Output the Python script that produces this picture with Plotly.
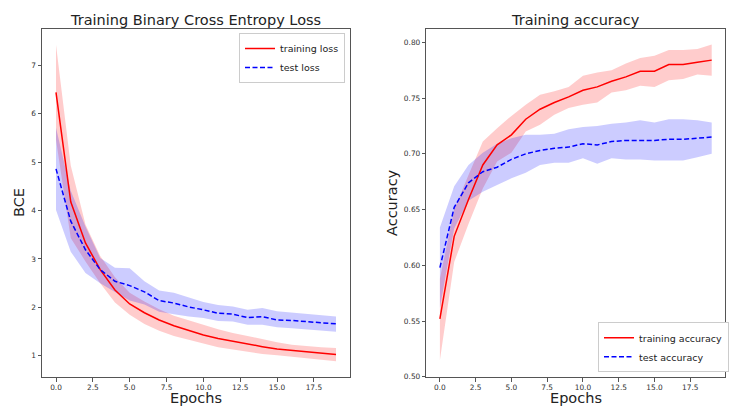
import plotly.graph_objects as go

epochs = list(range(20))

train_loss = [6.44, 4.18, 3.33, 2.78, 2.36, 2.07, 1.89, 1.74, 1.62, 1.52, 1.43, 1.36, 1.30, 1.24, 1.19, 1.14, 1.11, 1.08, 1.06, 1.03]
train_loss_upper = [7.42, 4.93, 3.71, 3.06, 2.62, 2.30, 2.12, 1.96, 1.83, 1.73, 1.64, 1.55, 1.47, 1.41, 1.34, 1.28, 1.23, 1.20, 1.18, 1.16]
train_loss_lower = [5.46, 3.43, 2.95, 2.50, 2.10, 1.85, 1.66, 1.52, 1.41, 1.33, 1.25, 1.18, 1.13, 1.08, 1.04, 1.01, 0.98, 0.95, 0.93, 0.89]

test_loss = [4.86, 3.78, 3.19, 2.78, 2.54, 2.45, 2.32, 2.14, 2.09, 2.01, 1.95, 1.88, 1.86, 1.79, 1.81, 1.74, 1.73, 1.71, 1.68, 1.66]
test_loss_upper = [5.71, 4.41, 3.67, 3.02, 2.82, 2.81, 2.54, 2.35, 2.30, 2.21, 2.11, 2.05, 2.02, 1.95, 1.99, 1.92, 1.89, 1.87, 1.84, 1.81]
test_loss_lower = [4.01, 3.15, 2.71, 2.50, 2.32, 2.14, 2.06, 1.91, 1.86, 1.81, 1.78, 1.72, 1.71, 1.64, 1.64, 1.59, 1.57, 1.55, 1.52, 1.50]

train_acc = [0.552, 0.626, 0.659, 0.690, 0.708, 0.717, 0.731, 0.740, 0.746, 0.751, 0.757, 0.760, 0.765, 0.769, 0.774, 0.774, 0.780, 0.780, 0.782, 0.784]
train_acc_upper = [0.588, 0.650, 0.681, 0.711, 0.723, 0.734, 0.744, 0.753, 0.756, 0.760, 0.770, 0.773, 0.775, 0.781, 0.786, 0.788, 0.793, 0.793, 0.794, 0.798]
train_acc_lower = [0.515, 0.603, 0.637, 0.669, 0.693, 0.701, 0.720, 0.726, 0.735, 0.741, 0.744, 0.746, 0.755, 0.757, 0.761, 0.760, 0.766, 0.767, 0.771, 0.770]

test_acc = [0.598, 0.652, 0.674, 0.684, 0.688, 0.695, 0.700, 0.703, 0.705, 0.706, 0.709, 0.708, 0.711, 0.712, 0.712, 0.712, 0.713, 0.713, 0.714, 0.715]
test_acc_upper = [0.634, 0.671, 0.690, 0.701, 0.709, 0.714, 0.717, 0.717, 0.718, 0.722, 0.724, 0.725, 0.727, 0.728, 0.730, 0.728, 0.731, 0.731, 0.730, 0.728]
test_acc_lower = [0.562, 0.633, 0.658, 0.666, 0.672, 0.678, 0.683, 0.690, 0.692, 0.692, 0.696, 0.691, 0.696, 0.695, 0.695, 0.694, 0.694, 0.694, 0.697, 0.700]

x_ticks = [0, 2.5, 5, 7.5, 10, 12.5, 15, 17.5]
x_tick_labels = ["0.0", "2.5", "5.0", "7.5", "10.0", "12.5", "15.0", "17.5"]
loss_ticks = [1, 2, 3, 4, 5, 6, 7]
acc_ticks = [0.50, 0.55, 0.60, 0.65, 0.70, 0.75, 0.80]
acc_tick_labels = ["0.50", "0.55", "0.60", "0.65", "0.70", "0.75", "0.80"]

# page has an 8px body margin; the figure fills the rest of the 737x406 window
OFF = 8
W, H = 737 - OFF, 406 - OFF
FONT = "DejaVu Sans"
RED = "#ff0000"
BLUE = "#0000ff"
RED_FILL = "rgba(255,0,0,0.2)"
BLUE_FILL = "rgba(0,0,255,0.2)"


def px_x(p):
    return (p - OFF) / W


def px_y(p):
    return 1 - (p - OFF) / H


fig = go.Figure()


def band(xa, ya, lower, upper, color):
    fig.add_trace(go.Scatter(x=epochs, y=lower, xaxis=xa, yaxis=ya, mode="lines",
                             line=dict(width=0, color=color), showlegend=False, hoverinfo="skip"))
    fig.add_trace(go.Scatter(x=epochs, y=upper, xaxis=xa, yaxis=ya, mode="lines",
                             line=dict(width=0, color=color), fill="tonexty", fillcolor=color,
                             showlegend=False, hoverinfo="skip"))


band("x", "y", train_loss_lower, train_loss_upper, RED_FILL)
band("x", "y", test_loss_lower, test_loss_upper, BLUE_FILL)
band("x2", "y2", train_acc_lower, train_acc_upper, RED_FILL)
band("x2", "y2", test_acc_lower, test_acc_upper, BLUE_FILL)

DASH = "5px,2.5px"
fig.add_trace(go.Scatter(x=epochs, y=train_loss, xaxis="x", yaxis="y", mode="lines",
                         name="training loss", line=dict(color=RED, width=1.5), legend="legend"))
fig.add_trace(go.Scatter(x=epochs, y=test_loss, xaxis="x", yaxis="y", mode="lines",
                         name="test loss", line=dict(color=BLUE, width=1.5, dash=DASH), legend="legend"))
fig.add_trace(go.Scatter(x=epochs, y=train_acc, xaxis="x2", yaxis="y2", mode="lines",
                         name="training accuracy", line=dict(color=RED, width=1.5), legend="legend2"))
fig.add_trace(go.Scatter(x=epochs, y=test_acc, xaxis="x2", yaxis="y2", mode="lines",
                         name="test accuracy", line=dict(color=BLUE, width=1.5, dash=DASH), legend="legend2"))

L0, L1 = px_x(42), px_x(350)
R0, R1 = px_x(426.3), px_x(725.3)
B, T = px_y(377), px_y(29)

axis_common = dict(showgrid=False, zeroline=False, showline=True, mirror=True, automargin=False,
                   linecolor="#555555", linewidth=1, ticks="outside", ticklen=3.5,
                   tickwidth=1, tickcolor="#555555",
                   tickfont=dict(family=FONT, size=7.4, color="#333333"))

legend_common = dict(bgcolor="white", bordercolor="#cccccc", borderwidth=1, traceorder="normal",
                     font=dict(family=FONT, size=9.5, color="#222222"), itemwidth=30, tracegroupgap=0)

fig.update_layout(
    width=W, height=H,
    margin=dict(l=0, r=0, t=0, b=0, autoexpand=False),
    paper_bgcolor="white", plot_bgcolor="white",
    xaxis=dict(domain=[L0, L1], range=[-0.95, 19.95], tickvals=x_ticks, ticktext=x_tick_labels,
               anchor="y", **axis_common),
    yaxis=dict(domain=[B, T], range=[0.5635, 7.7465], tickvals=loss_ticks, anchor="x", **axis_common),
    xaxis2=dict(domain=[R0, R1], range=[-0.95, 19.95], tickvals=x_ticks, ticktext=x_tick_labels,
                anchor="y2", **axis_common),
    yaxis2=dict(domain=[B, T], range=[0.4999, 0.8119], tickvals=acc_ticks, ticktext=acc_tick_labels,
                anchor="x2", **axis_common),
    legend=dict(x=px_x(345), y=px_y(33), xanchor="right", yanchor="top", **legend_common),
    legend2=dict(x=px_x(729), y=px_y(372.3), xanchor="right", yanchor="bottom", **legend_common),
    showlegend=True,
)

ann_font = dict(family=FONT, size=14.5, color="#222222")
annotations = [
    dict(text="Training Binary Cross Entropy Loss", x=(L0 + L1) / 2, y=px_y(10), xref="paper", yref="paper",
         xanchor="center", yanchor="top", showarrow=False, font=ann_font),
    dict(text="Training accuracy", x=(R0 + R1) / 2, y=px_y(10), xref="paper", yref="paper",
         xanchor="center", yanchor="top", showarrow=False, font=ann_font),
    dict(text="Epochs", x=(L0 + L1) / 2, y=px_y(388), xref="paper", yref="paper",
         xanchor="center", yanchor="top", showarrow=False, font=ann_font),
    dict(text="Epochs", x=(R0 + R1) / 2, y=px_y(388), xref="paper", yref="paper",
         xanchor="center", yanchor="top", showarrow=False, font=ann_font),
    dict(text="BCE", x=px_x(19), y=(B + T) / 2, xref="paper", yref="paper", textangle=-90,
         xanchor="center", yanchor="middle", showarrow=False, font=ann_font),
    dict(text="Accuracy", x=px_x(392), y=(B + T) / 2, xref="paper", yref="paper", textangle=-90,
         xanchor="center", yanchor="middle", showarrow=False, font=ann_font),
]
fig.update_layout(annotations=annotations)

fig.write_html("out.html")
